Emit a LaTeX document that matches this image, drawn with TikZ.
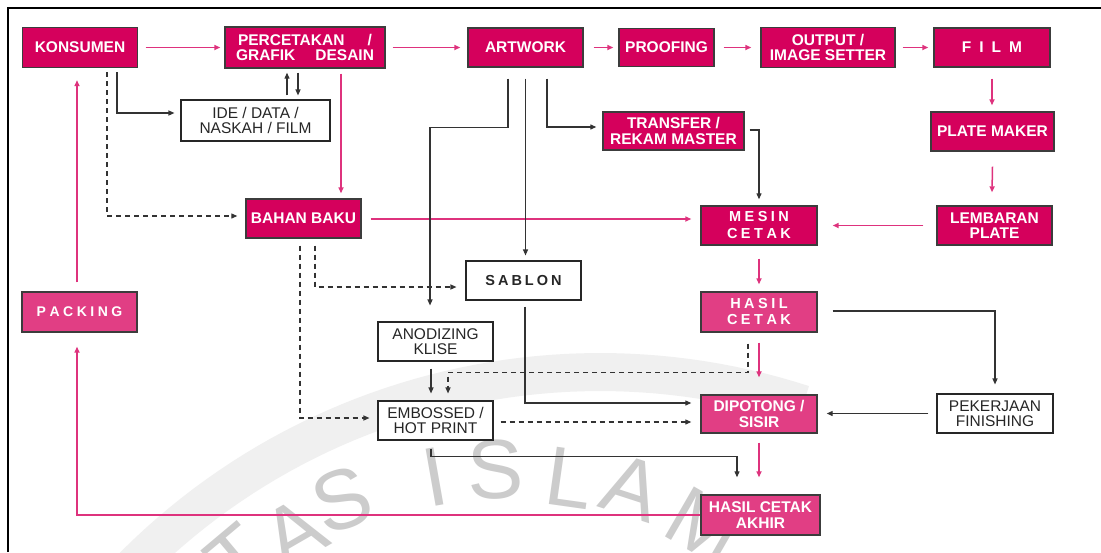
\documentclass[tikz,border=0pt]{standalone}
\usepackage{fontspec}
\setmainfont{Liberation Sans}
\usetikzlibrary{arrows.meta,calc}
\definecolor{mag}{RGB}{213,0,92}
\definecolor{pnk}{RGB}{225,62,132}
\definecolor{pline}{RGB}{222,50,125}
\definecolor{bord}{RGB}{60,60,60}
\begin{document}
\begin{tikzpicture}[x=1pt,y=-1pt,
 wh/.style 2 args={minimum width=#1pt,minimum height=#2pt},
 box/.style={draw=bord,line width=1.4pt,inner sep=0pt,align=center,font=\fontsize{15.5}{15.5}\selectfont\bfseries,text=white},
 mbox/.style={box,fill=mag},
 pbox/.style={box,fill=pnk},
 wbox/.style={draw=black!85,line width=1.1pt,fill=white,inner sep=0pt,align=center,font=\fontsize{15.5}{15}\selectfont,text=black!85},
 pk/.style={draw=pline,line width=1.5pt,-{Triangle[length=6pt,width=5pt]}},
 bk/.style={draw=black!80,line width=1.2pt,-{Triangle[length=6pt,width=5pt]}},
 dk/.style={bk,dash pattern=on 5pt off 4pt},
 wm/.style={font=\fontsize{84}{84}\selectfont,text=black!20,inner sep=0pt}
]
\clip (0,0) rectangle (1101,552);
\useasboundingbox (0,0) rectangle (1101,552);
\fill[white] (0,0) rectangle (1101,552);
% watermark
\draw[black!6,line width=38pt,line cap=butt] plot[domain=-136:-72,samples=50] ({600+658*cos(\x)},{1030+658*sin(\x)});
\node[wm,rotate=40] (wT) at (238,558) {T};
\node[wm,rotate=30] (wA1) at (294,532) {A};
\node[wm,rotate=20] (wS1) at (342,500) {S};
\node[wm,rotate=10] (wI) at (435,477) {I};
\node[wm,rotate=2] (wS2) at (495,470) {S};
\node[wm,rotate=-8] (wL) at (570,478) {L};
\node[wm,rotate=-18] (wA2) at (632,488) {A};
\node[wm,rotate=-30] (wM) at (704,526) {M};
% frame
\draw[line width=2pt,black] (8,552) -- (8,8) -- (1101,8);
% nodes
\node[mbox,wh={115}{40}] (konsumen) at (80,47.5) {KONSUMEN};
\node[mbox,wh={160}{41}] (percetakan) at (305,47.5) {\makebox[134pt]{PERCETAKAN\hfill/}\\\makebox[138pt]{GRAFIK\hfill DESAIN}};
\node[wbox,wh={149}{41}] (ide) at (255.5,120.5) {IDE / DATA /\\NASKAH / FILM};
\node[mbox,wh={115}{39}] (bahan) at (303.5,218.5) {BAHAN BAKU};
\node[mbox,wh={115}{39}] (artwork) at (525.5,47.5) {ARTWORK};
\node[mbox,wh={95}{38}] (proofing) at (666.5,47.5) {PROOFING};
\node[mbox,wh={134}{40}] (output) at (828,47.5) {OUTPUT /\\IMAGE SETTER};
\node[mbox,wh={116}{39}] (film) at (992,47.5) {F\kern8pt I\kern8pt L\kern8pt M};
\node[mbox,wh={123}{39}] (platemaker) at (992.5,131.5) {PLATE MAKER};
\node[mbox,wh={115}{39}] (lembaran) at (994.5,225.5) {LEMBARAN\\PLATE};
\node[mbox,wh={116}{39},font=\fontsize{14.5}{17}\selectfont\bfseries] (mesin) at (759,225.5) {M\kern3.5pt E\kern3.5pt S\kern3.5pt I\kern3.5pt N\\C\kern3.5pt E\kern3.5pt T\kern3.5pt A\kern3.5pt K};
\node[mbox,wh={141}{38}] (transfer) at (673.5,131) {TRANSFER /\\REKAM MASTER};
\node[wbox,wh={115}{39},font=\fontsize{14.5}{15}\selectfont\bfseries] (sablon) at (523.5,280.5) {S\kern3pt A\kern3pt B\kern3pt L\kern3pt O\kern3pt N};
\node[wbox,wh={115}{39}] (anodizing) at (435.5,341.5) {ANODIZING\\KLISE};
\node[wbox,wh={115}{39}] (embossed) at (435.5,420.5) {EMBOSSED /\\HOT PRINT};
\node[pbox,wh={116}{40},font=\fontsize{14.5}{16}\selectfont\bfseries] (hasil) at (759,312) {H\kern3.5pt A\kern3.5pt S\kern3.5pt I\kern3.5pt L\\C\kern3.5pt E\kern3.5pt T\kern3.5pt A\kern3.5pt K};
\node[pbox,wh={116}{38}] (dipotong) at (759,414) {DIPOTONG /\\SISIR};
\node[pbox,wh={119}{40}] (akhir) at (760.5,515) {HASIL CETAK\\AKHIR};
\node[wbox,wh={116}{39}] (pekerjaan) at (995,413.5) {PEKERJAAN\\FINISHING};
\node[pbox,wh={115}{40},font=\fontsize{14}{15}\selectfont\bfseries] (packing) at (79.5,312) {P\kern3.5pt A\kern3.5pt C\kern3.5pt K\kern3.5pt I\kern3.5pt N\kern3.5pt G};
% pink main flow
\draw[pk,shorten <=7.5pt,shorten >=4pt] (konsumen) -- (percetakan);
\draw[pk,shorten <=7pt,shorten >=7pt] (percetakan) -- (artwork);
\draw[pk,shorten <=10pt,shorten >=5pt] (artwork) -- (proofing);
\draw[pk,shorten <=9pt,shorten >=9pt] (proofing) -- (output);
\draw[pk,shorten <=7pt,shorten >=5pt] (output) -- (film);
\draw[pk] ($(film.south)+(0,11)$) -- ($(platemaker.north)+(-0.5,-6)$);
\draw[pk] ($(platemaker.south)+(0,15)$) -- ($(lembaran.north)+(-2.5,-13)$);
\draw[pk] ($(lembaran.west)+(-13,0)$) -- ($(mesin.east)+(15,0)$);
\draw[pk] ($(mesin.south)+(0,13)$) -- ($(hasil.north)+(0,-7)$);
\draw[pk] ($(hasil.south)+(0,10)$) -- ($(dipotong.north)+(0,-17)$);
\draw[pk] ($(dipotong.south)+(0,9)$) -- ($(akhir.north)+(-1.5,-17)$);
\draw[pk] (akhir.west) -| ($(packing.south)+(-2.5,14)$);
\draw[pk] ($(packing.north)+(-2.5,-9)$) -- ($(konsumen.south)+(-3,12)$);
\draw[pk] ($(percetakan.south)+(36,5)$) -- ($(bahan.north)+(37.5,-5)$);
\draw[pk] ($(bahan.east)+(9,0.5)$) -- ($(mesin.west)+(-9,-6.5)$);
% black and dashed connectors
\draw[bk] ($(konsumen.south)+(37,4)$) |- ($(ide.west)+(-6,-7.5)$);
\draw[dk] ($(konsumen.south)+(27,4)$) |- ($(bahan.west)+(-8,-2.5)$);
\draw[bk] ($(ide.north)+(31.5,-4)$) -- ($(percetakan.south)+(-18,4)$);
\draw[bk] ($(percetakan.south)+(-7,4)$) -- ($(ide.north)+(42.5,-4)$);
\draw[bk] ($(artwork.south)+(-17.5,11)$) -- ++(0,49) -| ($(anodizing.north)+(-5.5,-16)$);
\draw[bk] ($(artwork.south)+(0,11)$) -- ($(sablon.north)+(2,-5)$);
\draw[bk] ($(artwork.south)+(21.5,11)$) |- ($(transfer.west)+(-6,-4)$);
\draw[bk] ($(transfer.east)+(5,-1)$) -| ($(mesin.north)+(0,-6)$);
\draw[dk] ($(bahan.south)+(11.5,7)$) |- ($(sablon.west)+(-9,6.5)$);
\draw[dk] ($(bahan.south)+(-3.5,7)$) |- ($(embossed.west)+(-8,-2.5)$);
\draw[bk] ($(anodizing.south)+(-4.5,7)$) -- ($(embossed.north)+(-4.5,-7)$);
\draw[dk] ($(hasil.south)+(-11,11)$) -- ++(0,29) -| ($(embossed.north)+(12.5,-7)$);
\draw[bk] ($(sablon.south)+(1.5,6)$) |- ($(dipotong.west)+(-9,-11)$);
\draw[dk] ($(embossed.east)+(7,1.5)$) -- ($(dipotong.west)+(-9,8)$);
\draw[bk] ($(embossed.south)+(-4.5,8)$) -- ++(0,8) -| ($(akhir.north)+(-23.5,-17)$);
\draw[bk] ($(hasil.east)+(15,-1)$) -| ($(pekerjaan.north)+(0,-9)$);
\draw[bk] ($(pekerjaan.west)+(-8,0)$) -- ($(dipotong.east)+(9,-0.5)$);
\end{tikzpicture}
\end{document}
